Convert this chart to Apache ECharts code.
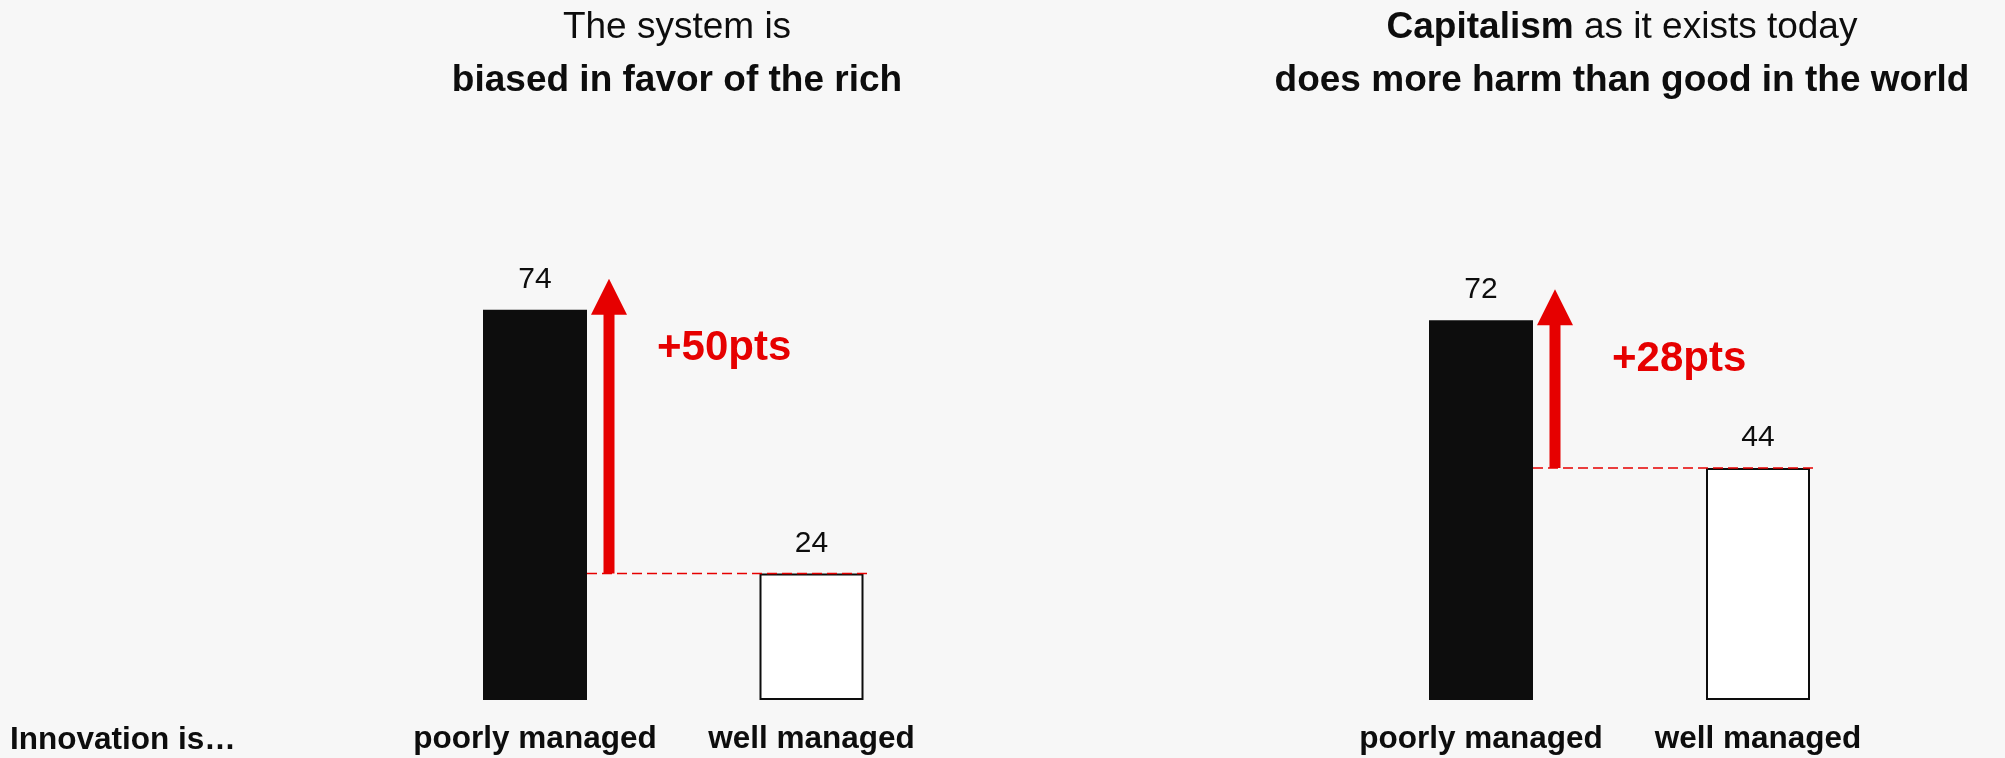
<!DOCTYPE html>
<html>
<head>
<meta charset="utf-8">
<script src="https://cdn.jsdelivr.net/npm/echarts@6/dist/echarts.min.js"></script>
<style>
	html, body { margin: 0; padding: 0; background: #f7f7f7; }
	#main { width: 2005px; height: 758px; }
</style>
</head>
<body>
<div id="main"></div>
<script>
// data
var categories = ['poorly managed', 'well managed'];
var biasedValues = [74, 24];
var capitalismValues = [72, 44];
var rowLabel = 'Innovation is…';
var leftTitle = '{n|The system is}\n{b|biased in favor of the rich}';
var rightTitle = '{b|Capitalism}{n| as it exists today}\n{b|does more harm than good in the world}';

var FONT = '"Liberation Sans", Arial, Helvetica, sans-serif';
var RED = '#e60000';
var INK = '#0d0d0d';

var myChart = echarts.init(document.getElementById('main'));

// one panel = grid + axes + bars + gap arrow
var panels = [
	{ values: biasedValues, title: leftTitle, left: 396.75, width: 553, titleX: 677, textOff: 48 },
	{ values: capitalismValues, title: rightTitle, left: 1342.5, width: 554, titleX: 1622, textOff: 57 }
];

function gapArrow(textOff) {
	return function (params, api) {
		var hi = api.value(1), lo = api.value(2);
		var top = api.coord([0, hi]);
		var base = api.coord([0, lo]);
		var far = api.coord([1, lo]);
		var ax = top[0] + 74;
		var tipY = top[1] - 31;
		var headY = tipY + 36;
		return {
			type: 'group',
			children: [{
				type: 'line',
				shape: { x1: top[0] + 52, y1: base[1], x2: far[0] + 58, y2: base[1] },
				style: { stroke: RED, lineWidth: 1.5, lineDash: [10, 5] }
			}, {
				type: 'rect',
				shape: { x: ax - 5.5, y: headY - 1, width: 11, height: base[1] - headY + 1 },
				style: { fill: RED }
			}, {
				type: 'polygon',
				shape: { points: [[ax - 18, headY], [ax + 18, headY], [ax, tipY]] },
				style: { fill: RED }
			}, {
				type: 'text',
				x: ax + textOff,
				y: top[1] + 39,
				style: {
					text: '+' + (hi - lo) + 'pts',
					fill: RED,
					fontSize: 42,
					fontWeight: 'bold',
					fontFamily: FONT,
					align: 'left',
					verticalAlign: 'middle'
				}
			}]
		};
	};
}

var option = {
	backgroundColor: '#f7f7f7',
	animation: false,
	title: [],
	grid: [],
	xAxis: [],
	yAxis: [],
	series: [],
	graphic: [{
		type: 'text',
		left: 10,
		top: 724,
		style: {
			text: rowLabel,
			fill: INK,
			fontSize: 31.5,
			fontWeight: 'bold',
			fontFamily: FONT
		}
	}]
};

for (var i = 0; i < panels.length; i++) {
	var p = panels[i];
	option.title.push({
		text: p.title,
		left: p.titleX,
		top: 1,
		padding: 0,
		textAlign: 'center',
		textStyle: {
			fontFamily: FONT,
			color: INK,
			rich: {
				n: { fontSize: 37, fontWeight: 'normal', lineHeight: 53, fontFamily: FONT, color: INK },
				b: { fontSize: 37, fontWeight: 'bold', lineHeight: 53, fontFamily: FONT, color: INK }
			}
		}
	});
	option.grid.push({ left: p.left, width: p.width, top: 172.5, height: 527.5 });
	option.xAxis.push({
		type: 'category',
		gridIndex: i,
		data: categories,
		axisLine: { show: false },
		axisTick: { show: false },
		axisLabel: {
			interval: 0,
			margin: 23,
			color: INK,
			fontSize: 31.5,
			fontWeight: 'bold',
			fontFamily: FONT
		}
	});
	option.yAxis.push({
		type: 'value',
		gridIndex: i,
		min: 0,
		max: 100,
		show: false,
		splitLine: { show: false }
	});
	option.series.push({
		type: 'bar',
		xAxisIndex: i,
		yAxisIndex: i,
		barWidth: 104,
		data: [
			{ value: p.values[0], itemStyle: { color: INK, borderWidth: 0 } },
			{ value: p.values[1], itemStyle: { color: '#ffffff', borderColor: INK, borderWidth: 2 } }
		],
		label: {
			show: true,
			position: 'top',
			distance: 15,
			color: INK,
			fontSize: 30,
			fontFamily: FONT
		},
		z: 2
	});
	option.series.push({
		type: 'custom',
		xAxisIndex: i,
		yAxisIndex: i,
		renderItem: gapArrow(p.textOff),
		data: [[0, p.values[0], p.values[1]]],
		encode: { x: 0, y: [1, 2] },
		clip: false,
		silent: true,
		z: 5
	});
}

myChart.setOption(option, true);
</script>
</body>
</html>
